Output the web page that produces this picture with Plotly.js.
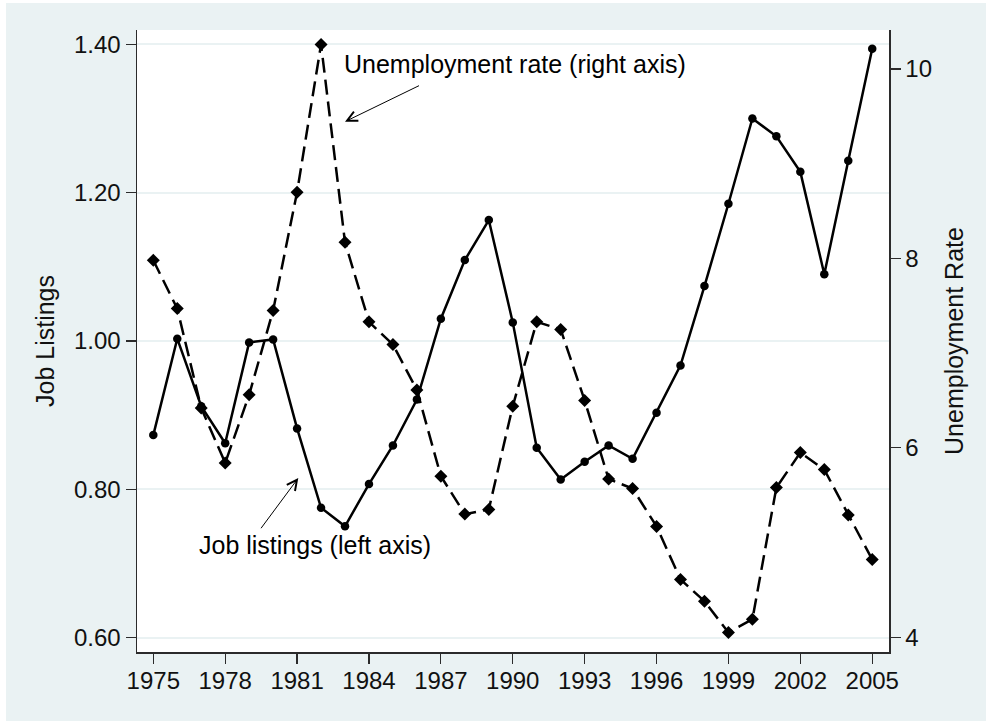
<!DOCTYPE html>
<html>
<head>
<meta charset="utf-8">
<script src="https://cdn.plot.ly/plotly-3.0.1.min.js"></script>
<style>
  html, body { margin: 0; padding: 0; background: #ffffff; }
  #chart { width: 986px; height: 721px; }
</style>
</head>
<body>
<div id="chart"></div>
<script>
// Years of observation
const years = [1975, 1976, 1977, 1978, 1979, 1980, 1981, 1982, 1983, 1984,
               1985, 1986, 1987, 1988, 1989, 1990, 1991, 1992, 1993, 1994,
               1995, 1996, 1997, 1998, 1999, 2000, 2001, 2002, 2003, 2004, 2005];

// Job listings index (left axis)
const jobListings = [0.873, 1.003, 0.912, 0.862, 0.998, 1.002, 0.882, 0.775, 0.750, 0.807,
                     0.859, 0.921, 1.030, 1.109, 1.163, 1.025, 0.856, 0.813, 0.837, 0.859,
                     0.841, 0.903, 0.967, 1.074, 1.185, 1.300, 1.276, 1.228, 1.090, 1.243, 1.394];

// Unemployment rate, percent (right axis)
const unemployment = [7.98, 7.47, 6.42, 5.84, 6.56, 7.45, 8.70, 10.26, 8.17, 7.33,
                      7.09, 6.61, 5.70, 5.30, 5.35, 6.44, 7.33, 7.25, 6.50, 5.67,
                      5.57, 5.17, 4.61, 4.38, 4.05, 4.19, 5.58, 5.95, 5.77, 5.29, 4.82];

// Axis ticks
const xTicks = [1975, 1978, 1981, 1984, 1987, 1990, 1993, 1996, 1999, 2002, 2005];
const leftTicks = [0.60, 0.80, 1.00, 1.20, 1.40];
const rightTicks = [4, 6, 8, 10];

const FONT = '"Liberation Sans", Arial, Helvetica, sans-serif';
const SERIF = '"Liberation Serif", "Times New Roman", serif';
const BG = '#eaf2f3';
const INK = '#000000';
const AXIS = '#2b2b2b';

const traces = [
  {
    x: years, y: unemployment, yaxis: 'y2',
    type: 'scatter', mode: 'lines+markers',
    line: { color: INK, width: 2.5, dash: '15px,7px' },
    marker: { symbol: 'diamond', size: 10, color: INK },
    hoverinfo: 'x+y', name: 'Unemployment rate'
  },
  {
    x: years, y: jobListings, yaxis: 'y',
    type: 'scatter', mode: 'lines+markers',
    line: { color: INK, width: 2.5 },
    marker: { symbol: 'circle', size: 8.5, color: INK },
    hoverinfo: 'x+y', name: 'Job listings'
  }
];

const layout = {
  width: 986, height: 721,
  margin: { l: 137, r: 97, t: 30, b: 69, pad: 0 },
  paper_bgcolor: BG,
  plot_bgcolor: '#ffffff',
  showlegend: false,
  font: { family: FONT, size: 24, color: '#111111' },
  xaxis: {
    range: [1974.32, 2005.70],
    tickvals: xTicks,
    ticktext: xTicks.map(String),
    ticks: 'outside', ticklen: 10, tickwidth: 1.2, tickcolor: AXIS,
    ticklabelstandoff: -3,
    tickfont: { family: FONT, size: 24, color: '#111111' },
    showline: true, linecolor: AXIS, linewidth: 1.5,
    showgrid: false, zeroline: false
  },
  yaxis: {
    range: [0.5805, 1.4193],
    tickvals: leftTicks,
    tickformat: '.2f',
    ticks: 'outside', ticklen: 10, tickwidth: 1.2, tickcolor: AXIS,
    tickfont: { family: FONT, size: 24, color: '#111111' },
    showline: true, linecolor: AXIS, linewidth: 1.5,
    showgrid: true, gridcolor: BG, gridwidth: 2,
    zeroline: false,
    title: { text: 'Job Listings', font: { family: FONT, size: 25, color: '#111111' }, standoff: 12 }
  },
  yaxis2: {
    overlaying: 'y', side: 'right',
    range: [3.844, 10.412],
    tickvals: rightTicks,
    ticks: 'outside', ticklen: 10, tickwidth: 1.2, tickcolor: AXIS,
    tickfont: { family: FONT, size: 24, color: '#111111' },
    showline: true, linecolor: AXIS, linewidth: 1.5,
    showgrid: false, zeroline: false,
    title: { text: 'Unemployment Rate', font: { family: FONT, size: 25, color: '#111111' }, standoff: 14 }
  },
  shapes: [
    // white margin strips around the shaded figure area
    { type: 'rect', xref: 'paper', yref: 'paper', layer: 'below',
      x0: -0.25, x1: 1.2, y0: (652 - 3) / 622, y1: 1.2,
      fillcolor: '#ffffff', line: { width: 0 } },
    { type: 'rect', xref: 'paper', yref: 'paper', layer: 'below',
      x0: -0.25, x1: (6 - 137) / 752, y0: -0.2, y1: 1.2,
      fillcolor: '#ffffff', line: { width: 0 } }
  ],
  annotations: [
    // caption line running off the top edge
    { xref: 'paper', yref: 'paper', x: (8 - 137) / 752, y: (652 + 1) / 622,
      xanchor: 'left', yanchor: 'bottom', showarrow: false,
      text: '(a)', font: { family: SERIF, size: 22, color: '#000' } },
    { xref: 'paper', yref: 'paper', x: (71 - 137) / 752, y: (652 + 1) / 622,
      xanchor: 'left', yanchor: 'bottom', showarrow: false,
      text: 'Unemployment', font: { family: SERIF, size: 22, color: '#000' } },
    // series labels
    { xref: 'x', yref: 'y', x: 1982.86, y: 1.3728,
      xanchor: 'left', yanchor: 'middle', showarrow: false,
      text: 'Unemployment rate (right axis)', font: { family: FONT, size: 25, color: '#000' } },
    { xref: 'x', yref: 'y', x: 1976.81, y: 0.7245,
      xanchor: 'left', yanchor: 'middle', showarrow: false,
      text: 'Job listings (left axis)', font: { family: FONT, size: 25, color: '#000' } },
    // pointer arrows
    { xref: 'x', yref: 'y', axref: 'x', ayref: 'y',
      x: 1983.0, y: 1.2957, ax: 1986.15, ay: 1.3452,
      text: '', showarrow: true, arrowhead: 5, arrowsize: 2, arrowwidth: 1, arrowcolor: '#000' },
    { xref: 'x', yref: 'y', axref: 'x', ayref: 'y',
      x: 1981.05, y: 0.8151, ax: 1979.45, ay: 0.7454,
      text: '', showarrow: true, arrowhead: 5, arrowsize: 2, arrowwidth: 1, arrowcolor: '#000' }
  ]
};

Plotly.newPlot('chart', traces, layout, { displayModeBar: false, staticPlot: true });
</script>
</body>
</html>
